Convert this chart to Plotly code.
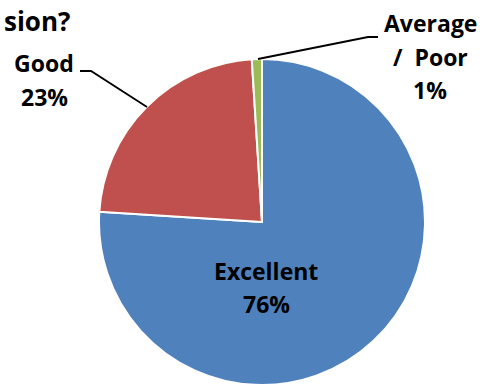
import plotly.graph_objects as go

# Survey breakdown
categories = ["Excellent", "Good", "Average / Poor"]
shares = [76, 23, 1]
colors = ["#4F81BD", "#C0504D", "#9BBB59"]
title_tail = "sion?"

W, H = 480, 385
FONT = "Open Sans"


def px(x):
    return x / W


def py(y):
    return 1 - y / H


fig = go.Figure(
    go.Pie(
        labels=categories,
        values=shares,
        sort=False,
        direction="clockwise",
        rotation=0,
        marker=dict(colors=colors, line=dict(color="white", width=2)),
        textinfo="none",
        hoverinfo="label+percent",
        domain=dict(x=[px(99), px(425)], y=[py(385), py(59)]),
        showlegend=False,
    )
)

annotations = []


def label_lines(lines, cx, ys, size=23):
    for t, y in zip(lines, ys):
        annotations.append(
            dict(
                x=px(cx), y=py(y), xref="paper", yref="paper",
                text=f"<b>{t}</b>", showarrow=False,
                xanchor="center", yanchor="middle",
                font=dict(family=FONT, size=size, color="black"),
            )
        )


# Data labels
label_lines([categories[0], f"{shares[0]}%"], 266, [271, 304])
label_lines([categories[1], f"{shares[1]}%"], 44, [63, 97])
label_lines(["Average", "/  Poor", f"{shares[2]}%"], 430, [23, 57, 90])

# Title fragment
annotations.append(
    dict(
        x=px(72), y=py(21), xref="paper", yref="paper",
        text=f"<b>{title_tail}</b>", showarrow=False,
        xanchor="right", yanchor="middle",
        font=dict(family=FONT, size=26, color="black"),
    )
)

# Leader lines
leaders = [
    [(147, 107), (91, 71), (80, 71)],
    [(258, 59), (368, 37), (378, 37)],
]
shapes = []
for pts in leaders:
    path = "M " + " L ".join(f"{px(x)},{py(y)}" for x, y in pts)
    shapes.append(
        dict(type="path", xref="paper", yref="paper", path=path,
             line=dict(color="black", width=1.8))
    )

fig.update_layout(
    width=W, height=H,
    margin=dict(l=0, r=0, t=0, b=0),
    paper_bgcolor="white",
    plot_bgcolor="white",
    annotations=annotations,
    shapes=shapes,
)

fig.write_html("out.html")
